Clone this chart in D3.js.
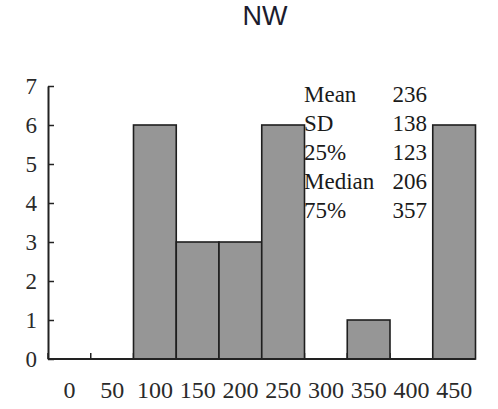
<!DOCTYPE html>
<html>
<head>
<meta charset="utf-8">
<script src="https://cdn.jsdelivr.net/npm/d3@7"></script>
<style>
  html, body { margin: 0; padding: 0; background: #fff; }
  svg { display: block; }
</style>
</head>
<body>
<svg id="chart" width="498" height="409"></svg>
<script>
// Histogram of NW values, 50-unit bins
const title = "NW";
const binLabels = ["0", "50", "100", "150", "200", "250", "300", "350", "400", "450"];
const counts = [0, 0, 6, 3, 3, 6, 0, 1, 0, 6];
const yTicks = [0, 1, 2, 3, 4, 5, 6, 7];

// Summary statistics printed inside the plot
const statNames = ["Mean", "SD", "25%", "Median", "75%"];
const statValues = [236, 138, 123, 206, 357];

const svg = d3.select("#chart").style("font-family", "Liberation Serif");
const plot = { left: 48, right: 475.5, top: 86, bottom: 359 };

const x = d3.scaleBand()
  .domain(binLabels)
  .range([plot.left, plot.right])
  .paddingInner(0)
  .paddingOuter(0);

const y = d3.scaleLinear()
  .domain([0, 7])
  .range([plot.bottom, plot.top]);

// Title
svg.append("text")
  .attr("x", 265)
  .attr("y", 25)
  .attr("text-anchor", "middle")
  .style("font-family", "Liberation Sans")
  .style("font-size", "27px")
  .attr("fill", "#1c1c2e")
  .text(title);

// Inward tick marks at bin boundaries on the category axis
svg.append("g")
  .selectAll("line")
  .data(binLabels)
  .join("line")
  .attr("x1", d => x(d))
  .attr("x2", d => x(d))
  .attr("y1", plot.bottom)
  .attr("y2", plot.bottom - 6)
  .attr("stroke", "#222")
  .attr("stroke-width", 1.5);

// Bars
svg.append("g")
  .selectAll("rect")
  .data(binLabels.map((b, i) => ({ bin: b, count: counts[i] })).filter(d => d.count > 0))
  .join("rect")
  .attr("x", d => x(d.bin))
  .attr("y", d => y(d.count))
  .attr("width", x.bandwidth())
  .attr("height", d => y(0) - y(d.count))
  .attr("fill", "#969696")
  .attr("stroke", "#1e1e1e")
  .attr("stroke-width", 1.6);

// Y axis with inward ticks
const yAxis = d3.axisLeft(y)
  .tickValues(yTicks)
  .tickFormat(d3.format("d"))
  .tickSizeInner(-6)
  .tickSizeOuter(0)
  .tickPadding(11);

const gy = svg.append("g")
  .attr("transform", `translate(${plot.left},0)`)
  .call(yAxis);
gy.attr("font-family", null).attr("font-size", null);
gy.select(".domain").attr("stroke", "#222").attr("stroke-width", 2);
gy.selectAll(".tick line").attr("stroke", "#222").attr("stroke-width", 1.5);
gy.selectAll(".tick text")
  .style("font-family", "Liberation Serif")
  .style("font-size", "23px")
  .attr("fill", "#2a2a2a")
  .attr("dy", "0.34em");

// X axis: labels centred under each bin
const xAxis = d3.axisBottom(x)
  .tickSize(0)
  .tickPadding(0);

const gx = svg.append("g")
  .attr("transform", `translate(0,${plot.bottom})`)
  .call(xAxis);
gx.attr("font-family", null).attr("font-size", null);
gx.select(".domain")
  .attr("d", `M${plot.left},0H${plot.right}`)
  .attr("stroke", "#222")
  .attr("stroke-width", 2);
gx.selectAll(".tick text")
  .style("font-family", "Liberation Serif")
  .style("font-size", "24px")
  .attr("fill", "#2a2a2a")
  .attr("dy", null)
  .attr("y", 39);

// Statistics block
statNames.forEach((name, i) => {
  const base = 101.5 + i * 29.2;
  svg.append("text").attr("x", 304).attr("y", base)
    .style("font-family", "Liberation Serif").style("font-size", "23px")
    .attr("fill", "#1a1a1a").text(name);
  svg.append("text").attr("x", 427).attr("y", base)
    .attr("text-anchor", "end")
    .style("font-family", "Liberation Serif").style("font-size", "23px")
    .attr("fill", "#1a1a1a").text(statValues[i]);
});
</script>
</body>
</html>
